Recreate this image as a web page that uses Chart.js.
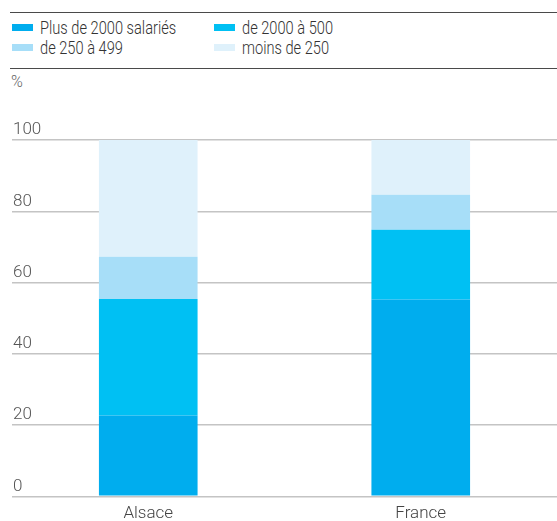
<!DOCTYPE html>
<html lang="fr">
<head>
<meta charset="utf-8">
<script src="https://cdn.jsdelivr.net/npm/chart.js@4"></script>
<style>
  body { margin: 0; background: #fff; }
  #wrap { position: relative; width: 557px; height: 521px; overflow: hidden;
          font-family: Roboto, "Noto Sans", sans-serif; font-weight: 300; color: #333; }
  .rule { position: absolute; left: 10px; right: 0; border-top: 1.5px solid #4a4a4a; }
  #legende { position: absolute; left: 12px; top: 17px; display: grid;
             grid-template-columns: 202px 200px; row-gap: 0px; font-size: 19px; }
  .item { display: flex; align-items: center; height: 20px; white-space: nowrap; }
  .item i { display: inline-block; width: 21px; height: 7px; margin-right: 7px; flex: none; }
  .item span { display: inline-block; transform: scaleX(0.77); transform-origin: left center; }
  #unite { position: absolute; left: 11px; top: 72px; font-size: 16px; color: #666; }
  #zone { position: absolute; left: 10px; top: 70px; width: 547px; height: 461px; }
</style>
</head>
<body>
<div id="wrap">
  <div class="rule" style="top:12px"></div>
  <div id="legende"></div>
  <div class="rule" style="top:68px"></div>
  <div id="unite">%</div>
  <div id="zone"><canvas id="graphique"></canvas></div>
</div>
<script>
// Données (part des salariés selon la taille de l'établissement, en %)
const regions = ['Alsace', 'France'];
const series = ['Plus de 2000 salariés', 'de 2000 à 500', 'de 250 à 499', 'moins de 250'];
const couleurs = ['#00adee', '#00c0f3', '#a7def8', '#dff1fb'];
const plus2000 = [22.7, 55.2];
const de2000a500 = [32.7, 19.6];
const de250a499 = [11.8, 9.8];
const moins250 = [32.8, 15.4];
const ticksY = [0, 20, 40, 60, 80, 100];

const valeurs = [plus2000, de2000a500, de250a499, moins250];

// Légende HTML (2 colonnes)
const legende = document.getElementById('legende');
series.forEach((nom, i) => {
    const div = document.createElement('div');
    div.className = 'item';
    div.innerHTML = `<i style="background:${couleurs[i]}"></i><span>${nom}</span>`;
    legende.appendChild(div);
});

Chart.defaults.font.family = 'Roboto, "Noto Sans", sans-serif';
Chart.defaults.font.weight = '300';

new Chart(document.getElementById('graphique'), {
    type: 'bar',
    data: {
        labels: regions,
        datasets: series.map((nom, i) => ({
            label: nom,
            data: valeurs[i],
            backgroundColor: couleurs[i],
            borderWidth: 0,
            barPercentage: 0.362,
            categoryPercentage: 1
        }))
    },
    options: {
        responsive: true,
        maintainAspectRatio: false,
        animation: false,
        layout: { padding: { top: 70, left: 0, right: 0, bottom: 0 } },
        plugins: {
            legend: { display: false },
            tooltip: { enabled: false }
        },
        scales: {
            x: {
                stacked: true,
                grid: { display: false, drawTicks: false },
                border: { display: false },
                ticks: { color: '#444', font: { size: 17, lineHeight: 1.1 }, padding: 8 }
            },
            y: {
                stacked: true,
                min: 0,
                max: 100,
                afterBuildTicks: axis => { axis.ticks = ticksY.map(v => ({ value: v })); },
                border: { display: false },
                grid: { color: '#c4c4c4', lineWidth: 1.5, drawTicks: false },
                ticks: {
                    mirror: true,
                    padding: 1,
                    labelOffset: -10,
                    color: '#555',
                    font: { size: 17 }
                }
            }
        }
    }
});
</script>
</body>
</html>
